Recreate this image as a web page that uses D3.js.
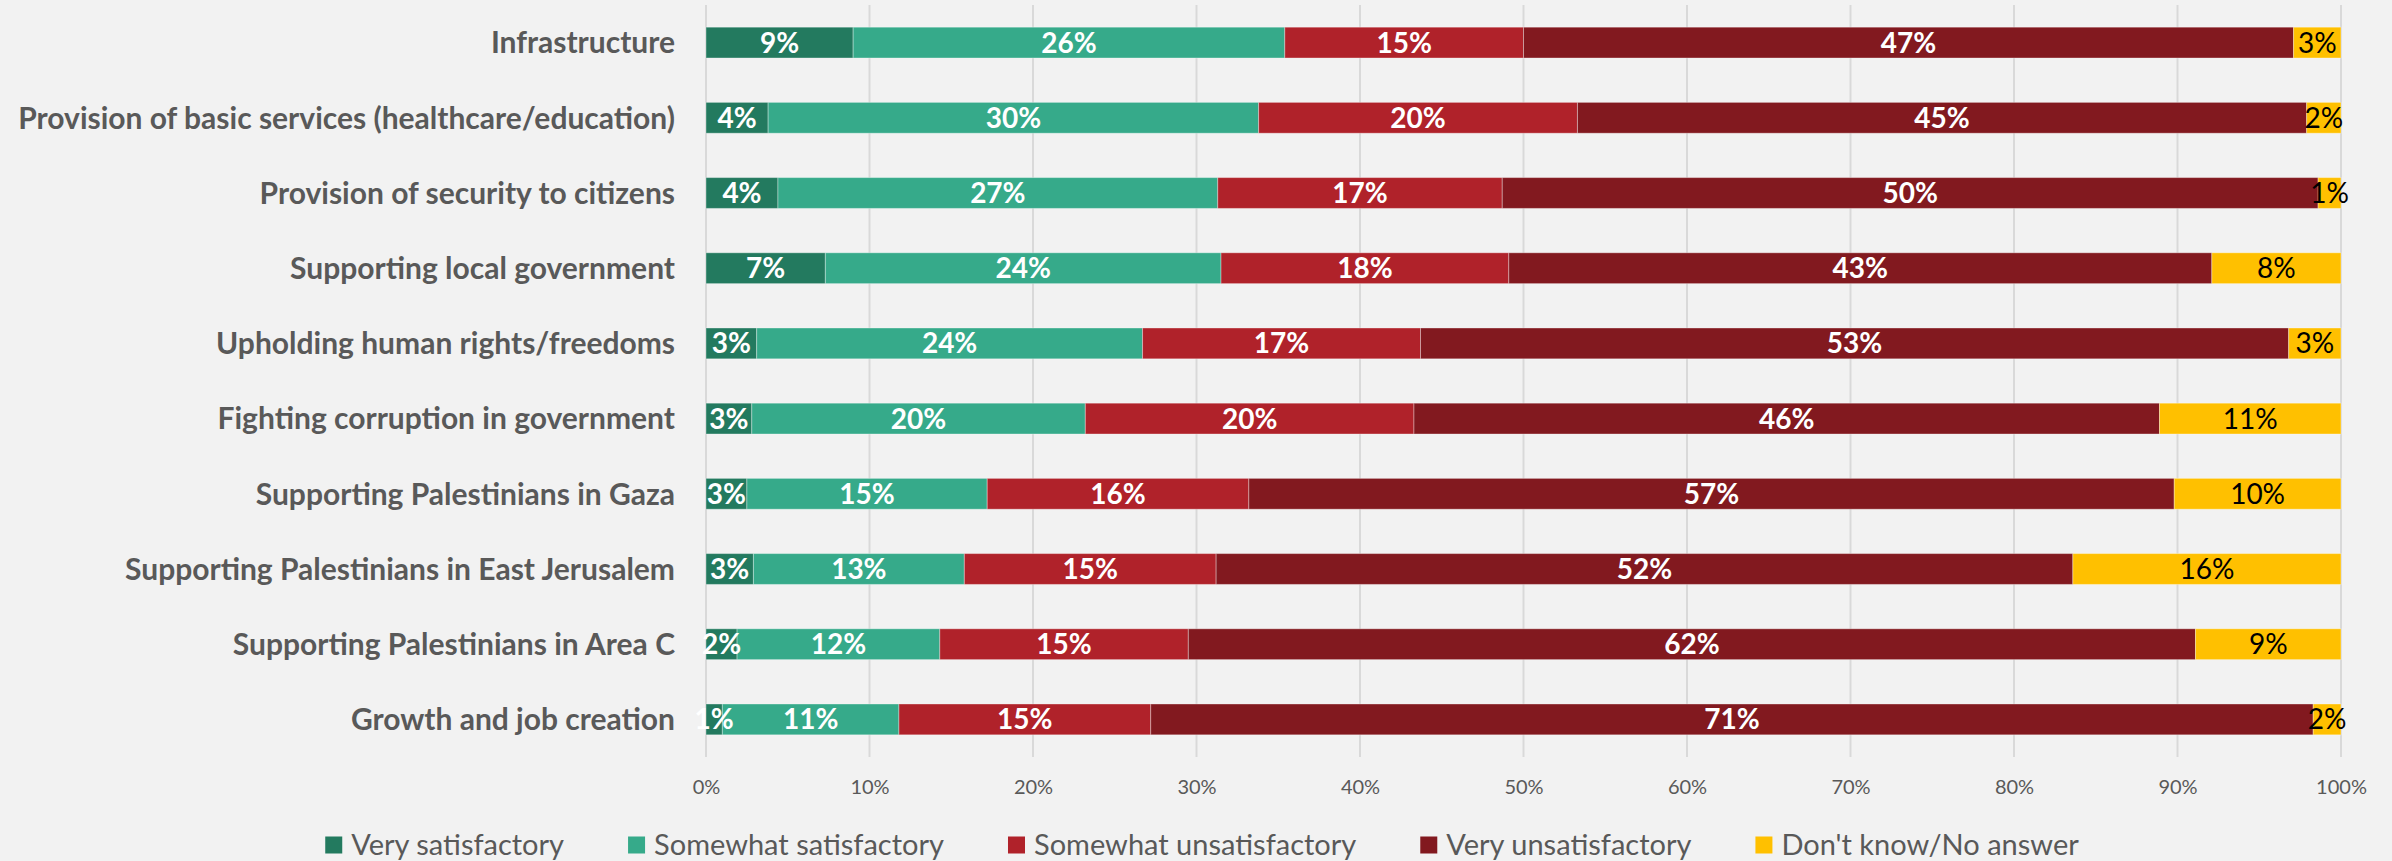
<!DOCTYPE html>
<html>
<head>
<meta charset="utf-8">
<script src="https://cdn.jsdelivr.net/npm/d3@7"></script>
<style>
  html, body { margin: 0; padding: 0; background: #F2F2F2; }
  svg { display: block; }
</style>
</head>
<body>
<svg id="chart" width="2392" height="861"></svg>
<script>
const categories = [
  "Infrastructure",
  "Provision of basic services (healthcare/education)",
  "Provision of security to citizens",
  "Supporting local government",
  "Upholding human rights/freedoms",
  "Fighting corruption in government",
  "Supporting Palestinians in Gaza",
  "Supporting Palestinians in East Jerusalem",
  "Supporting Palestinians in Area C",
  "Growth and job creation"
];
const seriesNames = ["Very satisfactory", "Somewhat satisfactory", "Somewhat unsatisfactory", "Very unsatisfactory", "Don't know/No answer"];
const verySatisfactory       = [9.0, 3.8, 4.4, 7.3, 3.1, 2.8, 2.5, 2.9, 1.9, 1.0];
const somewhatSatisfactory   = [26.4, 30.0, 26.9, 24.2, 23.6, 20.4, 14.7, 12.9, 12.4, 10.8];
const somewhatUnsatisfactory = [14.6, 19.5, 17.4, 17.6, 17.0, 20.1, 16.0, 15.4, 15.2, 15.4];
const veryUnsatisfactory     = [47.1, 44.6, 49.9, 43.0, 53.1, 45.6, 56.6, 52.4, 61.6, 71.1];
const dontKnow               = [2.9, 2.1, 1.4, 7.9, 3.2, 11.1, 10.2, 16.4, 8.9, 1.7];
const tickValues = [0, 10, 20, 30, 40, 50, 60, 70, 80, 90, 100];
const tickLabels = ["0%", "10%", "20%", "30%", "40%", "50%", "60%", "70%", "80%", "90%", "100%"];

const colors = ["#237A5F", "#36AA8A", "#B0222A", "#82191F", "#FFC000"];
const labelColors = ["#FFFFFF", "#FFFFFF", "#FFFFFF", "#FFFFFF", "#000000"];
const labelWeights = ["bold", "bold", "bold", "bold", "normal"];
const FONT = "Lato, 'Open Sans', sans-serif";

const seriesValues = [verySatisfactory, somewhatSatisfactory, somewhatUnsatisfactory, veryUnsatisfactory, dontKnow];
const rows = categories.map((c, i) => {
  const r = { category: c };
  seriesNames.forEach((s, k) => r[s] = seriesValues[k][i]);
  return r;
});

const svg = d3.select("#chart");
const x = d3.scaleLinear().domain([0, 100]).range([706, 2341]);
const y = d3.scaleBand().domain(categories).range([5, 757]).paddingInner(0.59).paddingOuter(0.295);

// gridlines
svg.append("g").selectAll("line").data(tickValues).join("line")
  .attr("x1", d => x(d)).attr("x2", d => x(d))
  .attr("y1", 5).attr("y2", 757)
  .attr("stroke", "#D9D9D9").attr("stroke-width", 2);

// stacked bars
const stack = d3.stack().keys(seriesNames);
const stacked = stack(rows);

const gBars = svg.append("g");
stacked.forEach((layer, k) => {
  gBars.append("g").selectAll("rect").data(layer).join("rect")
    .attr("x", d => x(d[0]))
    .attr("y", d => y(d.data.category))
    .attr("width", d => x(d[1]) - x(d[0]))
    .attr("height", y.bandwidth())
    .attr("fill", colors[k])
    .attr("stroke", "#ffffff").attr("stroke-opacity", 0.35).attr("stroke-width", 1);
});

// data labels
stacked.forEach((layer, k) => {
  svg.append("g").selectAll("text").data(layer).join("text")
    .attr("x", d => (x(d[0]) + x(d[1])) / 2)
    .attr("y", d => y(d.data.category) + y.bandwidth() / 2)
    .attr("dy", "0.36em")
    .attr("text-anchor", "middle")
    .attr("fill", labelColors[k])
    .attr("font-family", FONT)
    .attr("font-weight", labelWeights[k])
    .attr("font-size", 28)
    .text(d => Math.round(d[1] - d[0]) + "%");
});

// category labels
svg.append("g").selectAll("text").data(categories).join("text")
  .attr("x", 675)
  .attr("y", d => y(d) + y.bandwidth() / 2)
  .attr("dy", "0.36em")
  .attr("text-anchor", "end")
  .attr("fill", "#595959")
  .attr("font-family", FONT)
  .attr("font-weight", "bold")
  .attr("font-size", 30)
  .text(d => d);

// x axis labels
const xAxis = d3.axisBottom(x).tickValues(tickValues).tickFormat((d, i) => tickLabels[i]).tickSize(0).tickPadding(0);
const gx = svg.append("g").attr("transform", "translate(0,780)").call(xAxis);
gx.select(".domain").remove();
gx.selectAll("text")
  .attr("fill", "#595959")
  .attr("font-family", FONT)
  .attr("font-size", 20)
  .attr("dy", "0.71em");

// legend
const legend = svg.append("g");
const items = legend.selectAll("g").data(seriesNames).join("g");
items.append("rect").attr("width", 17).attr("height", 17).attr("y", -8.5).attr("fill", (d, i) => colors[i]);
items.append("text").attr("x", 26).attr("dy", "0.36em")
  .attr("fill", "#595959").attr("font-family", FONT).attr("font-size", 29)
  .text(d => d);
let offset = 0;
const gap = 64;
const positions = [];
items.each(function () {
  const w = d3.select(this).select("text").node().getComputedTextLength();
  positions.push(offset);
  offset += 26 + w + gap;
});
const total = offset - gap;
const start = 1202 - total / 2;
items.attr("transform", (d, i) => `translate(${start + positions[i]},845)`);
</script>
</body>
</html>
